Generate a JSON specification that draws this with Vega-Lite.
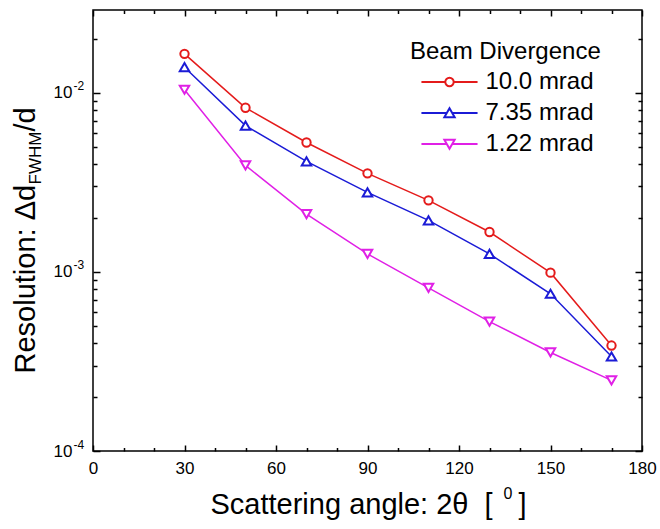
{
  "$schema": "https://vega.github.io/schema/vega-lite/v6.json",
  "width": 549,
  "height": 441,
  "autosize": {"type": "none"},
  "padding": {"left": 93, "top": 10, "right": 18, "bottom": 78},
  "background": "white",
  "config": {
    "font": "Liberation Sans",
    "view": {"stroke": "black", "strokeWidth": 1.5},
    "axis": {
      "grid": false, "domain": false, "tickColor": "black", "tickWidth": 1.5,
      "labelColor": "black", "labelFont": "Liberation Sans", "labelFontSize": 17,
      "titleFont": "Liberation Sans", "titleColor": "black", "titleFontWeight": "normal",
      "labelOverlap": false, "labelFlush": false, "labelBound": false
    },
    "legend": {
      "titleFontSize": 24, "titleFont": "Liberation Sans", "titleFontWeight": "normal", "titleColor": "black", "titleLimit": 400,
      "labelFontSize": 24, "labelFont": "Liberation Sans", "labelColor": "black", "labelLimit": 300,
      "symbolSize": 350, "symbolStrokeWidth": 2, "symbolOffset": 27.5, "labelOffset": 24,
      "rowPadding": 7, "titlePadding": 6, "padding": 0
    }
  },
  "data": {
    "values": [
      {"angle": 30, "res": 0.0165, "series": "10.0 mrad"},
      {"angle": 50, "res": 0.00825, "series": "10.0 mrad"},
      {"angle": 70, "res": 0.00528, "series": "10.0 mrad"},
      {"angle": 90, "res": 0.00355, "series": "10.0 mrad"},
      {"angle": 110, "res": 0.00251, "series": "10.0 mrad"},
      {"angle": 130, "res": 0.00167, "series": "10.0 mrad"},
      {"angle": 150, "res": 0.00099, "series": "10.0 mrad"},
      {"angle": 170, "res": 0.000388, "series": "10.0 mrad"},
      {"angle": 30, "res": 0.0139, "series": "7.35 mrad"},
      {"angle": 50, "res": 0.00656, "series": "7.35 mrad"},
      {"angle": 70, "res": 0.00414, "series": "7.35 mrad"},
      {"angle": 90, "res": 0.00278, "series": "7.35 mrad"},
      {"angle": 110, "res": 0.00194, "series": "7.35 mrad"},
      {"angle": 130, "res": 0.00126, "series": "7.35 mrad"},
      {"angle": 150, "res": 0.000755, "series": "7.35 mrad"},
      {"angle": 170, "res": 0.000337, "series": "7.35 mrad"},
      {"angle": 30, "res": 0.0104, "series": "1.22 mrad"},
      {"angle": 50, "res": 0.00393, "series": "1.22 mrad"},
      {"angle": 70, "res": 0.0021, "series": "1.22 mrad"},
      {"angle": 90, "res": 0.00126, "series": "1.22 mrad"},
      {"angle": 110, "res": 0.000815, "series": "1.22 mrad"},
      {"angle": 130, "res": 0.000528, "series": "1.22 mrad"},
      {"angle": 150, "res": 0.000355, "series": "1.22 mrad"},
      {"angle": 170, "res": 0.000248, "series": "1.22 mrad"}
    ]
  },
  "layer": [
    {
      "mark": {"type": "line", "strokeWidth": 1.5},
      "encoding": {
        "x": {"field": "angle", "type": "quantitative", "scale": {"domain": [0, 180], "nice": false, "zero": false},
          "axis": {"orient": "bottom", "values": [0, 30, 60, 90, 120, 150, 180],
            "tickSize": -6, "labelPadding": 15,
            "title": "Scattering angle: 2θ\u00a0\u00a0[", "titleFontSize": 29, "titleX": 117, "titleY": 62,
            "titleAlign": "left", "titleBaseline": "alphabetic"}},
        "y": {"field": "res", "type": "quantitative", "scale": {"type": "log", "domain": [0.0001, 0.029], "nice": false},
          "axis": {"orient": "left", "values": [0.0001, 0.001, 0.01],
            "labelExpr": "'10'", "tickSize": -7, "labelPadding": 28, "labelAlign": "right",
            "title": "Resolution: Δd", "titleFontSize": 29, "titleAngle": 270, "titleX": -59, "titleY": 363,
            "titleAlign": "left", "titleBaseline": "alphabetic"}},
        "stroke": {"field": "series", "type": "nominal",
          "scale": {"range": ["#e020e6", "#e41b1b", "#1b1bd6"]},
          "legend": null}
      }
    },
    {
      "transform": [{"filter": "datum.series === '10.0 mrad'"}],
      "mark": {"type": "point", "shape": "circle", "filled": false, "fill": "white", "stroke": "#e41b1b", "strokeWidth": 2, "size": 70, "opacity": 1},
      "encoding": {
        "x": {"field": "angle", "type": "quantitative", "scale": {"domain": [0, 180], "nice": false, "zero": false},
          "axis": {"orient": "top", "values": [0, 30, 60, 90, 120, 150, 180], "tickSize": -6, "labels": false, "title": null}},
        "y": {"field": "res", "type": "quantitative", "scale": {"type": "log", "domain": [0.0001, 0.029], "nice": false},
          "axis": {"orient": "right", "values": [0.0001, 0.001, 0.01], "tickSize": -7, "labels": false, "title": null}}
      }
    },
    {
      "transform": [{"filter": "datum.series === '7.35 mrad'"}],
      "mark": {"type": "point", "shape": "triangle-up", "filled": false, "fill": "white", "stroke": "#1b1bd6", "strokeWidth": 2, "size": 90, "opacity": 1},
      "encoding": {
        "x": {"field": "angle", "type": "quantitative", "scale": {"domain": [0, 180], "nice": false, "zero": false},
          "axis": {"orient": "bottom", "values": [10, 20, 40, 50, 70, 80, 100, 110, 130, 140, 160, 170],
            "tickSize": -3.5, "labels": false,
            "title": "0", "titleFontSize": 16, "titleX": 410, "titleY": 47, "titleAlign": "left", "titleBaseline": "alphabetic"}},
        "y": {"field": "res", "type": "quantitative", "scale": {"type": "log", "domain": [0.0001, 0.029], "nice": false},
          "axis": {"orient": "left", "values": [0.0001, 0.001, 0.01], "ticks": false,
            "labelExpr": "'-' + (-round(log(datum.value)/LN10))", "labelFontSize": 12, "labelAlign": "left",
            "labelPadding": 20, "labelOffset": -7,
            "title": "FWHM", "titleFontSize": 17, "titleAngle": 270, "titleX": -53, "titleY": 174,
            "titleAlign": "left", "titleBaseline": "alphabetic"}}
      }
    },
    {
      "transform": [{"filter": "datum.series === '1.22 mrad'"}],
      "mark": {"type": "point", "shape": "triangle-down", "filled": false, "fill": "white", "stroke": "#e020e6", "strokeWidth": 2, "size": 90, "opacity": 1},
      "encoding": {
        "x": {"field": "angle", "type": "quantitative", "scale": {"domain": [0, 180], "nice": false, "zero": false},
          "axis": {"orient": "bottom", "ticks": false, "labels": false,
            "title": "]", "titleFontSize": 29, "titleX": 425, "titleY": 62, "titleAlign": "left", "titleBaseline": "alphabetic"}},
        "y": {"field": "res", "type": "quantitative", "scale": {"type": "log", "domain": [0.0001, 0.029], "nice": false},
          "axis": {"orient": "left",
            "values": [0.0002,0.0003,0.0004,0.0005,0.0006,0.0007,0.0008,0.0009,0.002,0.003,0.004,0.005,0.006,0.007,0.008,0.009,0.02],
            "tickSize": -4, "labels": false,
            "title": "/d", "titleFontSize": 29, "titleAngle": 270, "titleX": -59, "titleY": 121,
            "titleAlign": "left", "titleBaseline": "alphabetic"}}
      }
    },
    {
      "mark": {"type": "point", "opacity": 0},
      "encoding": {
        "x": {"field": "angle", "type": "quantitative", "scale": {"domain": [0, 180], "nice": false, "zero": false},
          "axis": {"orient": "top", "values": [10, 20, 40, 50, 70, 80, 100, 110, 130, 140, 160, 170],
            "tickSize": -3.5, "labels": false, "title": null}},
        "y": {"field": "res", "type": "quantitative", "scale": {"type": "log", "domain": [0.0001, 0.029], "nice": false},
          "axis": {"orient": "right",
            "values": [0.0002,0.0003,0.0004,0.0005,0.0006,0.0007,0.0008,0.0009,0.002,0.003,0.004,0.005,0.006,0.007,0.008,0.009,0.02],
            "tickSize": -4, "labels": false, "title": null}},
        "color": {"field": "series", "type": "nominal",
          "scale": {"domain": ["10.0 mrad", "7.35 mrad", "1.22 mrad"], "range": ["#e41b1b", "#1b1bd6", "#e020e6"]},
          "legend": {"title": "Beam Divergence", "orient": "none", "legendX": 317, "legendY": 30, "symbolOpacity": 1,
            "encode": {"symbols": {"update": {"opacity": {"value": 1}, "strokeWidth": {"value": 2}}}}}},
        "shape": {"field": "series", "type": "nominal",
          "scale": {"domain": ["10.0 mrad", "7.35 mrad", "1.22 mrad"],
            "range": [
              "M-3,0H-0.45M0.45,0H3M0.45,0A0.45,0.45,0,1,1,-0.45,0A0.45,0.45,0,1,1,0.45,0Z",
              "M-3,0H-0.3M0.3,0H3M0,-0.5L0.55,0.45L-0.55,0.45Z",
              "M-3,0H-0.3M0.3,0H3M0,0.5L0.55,-0.45L-0.55,-0.45Z"
            ]},
          "legend": {"title": "Beam Divergence", "orient": "none", "legendX": 317, "legendY": 30, "symbolOpacity": 1,
            "encode": {"symbols": {"update": {"opacity": {"value": 1}, "strokeWidth": {"value": 2}}}}}}
      }
    }
  ],
  "resolve": {"axis": {"x": "independent", "y": "independent"}}
}
